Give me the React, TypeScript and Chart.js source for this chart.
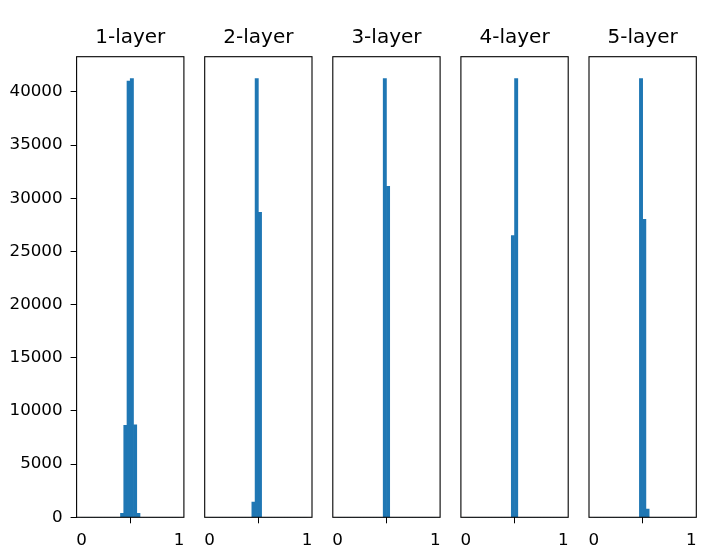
import React, { useEffect, useRef } from 'react';
import { Chart, registerables } from 'chart.js';

Chart.register(...registerables);

// ---- data ----
const BIN_COUNT = 30;
const BIN_CENTERS = Array.from({ length: BIN_COUNT }, (_, i) => (i + 0.5) / BIN_COUNT);
const TITLES = ['1-layer', '2-layer', '3-layer', '4-layer', '5-layer'];
const X_TICKS = [0, 1];
const Y_TICKS = [0, 5000, 10000, 15000, 20000, 25000, 30000, 35000, 40000];

//                0  1  2  3  4  5  6  7  8  9 10 11  12    13     14     15    16   17 18 19 20 21 22 23 24 25 26 27 28 29
const LAYER_1 = [0, 0, 0, 0, 0, 0, 0, 0, 0, 0, 0, 0, 370, 8640, 41000, 41240, 8705, 380, 0, 0, 0, 0, 0, 0, 0, 0, 0, 0, 0, 0];
const LAYER_2 = [0, 0, 0, 0, 0, 0, 0, 0, 0, 0, 0, 0, 0, 2000, 57800, 40200, 0, 0, 0, 0, 0, 0, 0, 0, 0, 0, 0, 0, 0, 0];
const LAYER_3 = [0, 0, 0, 0, 0, 0, 0, 0, 0, 0, 0, 0, 0, 0, 57000, 43000, 0, 0, 0, 0, 0, 0, 0, 0, 0, 0, 0, 0, 0, 0];
const LAYER_4 = [0, 0, 0, 0, 0, 0, 0, 0, 0, 0, 0, 0, 0, 0, 39100, 60900, 0, 0, 0, 0, 0, 0, 0, 0, 0, 0, 0, 0, 0, 0];
const LAYER_5 = [0, 0, 0, 0, 0, 0, 0, 0, 0, 0, 0, 0, 0, 0, 58900, 40000, 1100, 0, 0, 0, 0, 0, 0, 0, 0, 0, 0, 0, 0, 0];
const LAYERS = [LAYER_1, LAYER_2, LAYER_3, LAYER_4, LAYER_5];

// ---- layout ----
const FIG_W = 712;
const FIG_H = 559;
const AX_LEFT0 = 76.6;
const AX_STEP = 128.1;
const AX_W = 107.3;
const AX_TOP = 56.7;
const AX_BOTTOM = 517.3;
const BLUE = '#1f77b4';
const FONT = 'DejaVu Sans';
const TICK_FONT = 16.7;
const TITLE_FONT = 20;
const TITLE_LINE = 24;
const TITLE_PAD_TOP = 25.6;

const framePlugin = {
  id: 'frame',
  afterDraw(chart: any) {
    const { ctx, chartArea: a } = chart;
    ctx.save();
    ctx.strokeStyle = '#000';
    ctx.lineWidth = 1.1;
    ctx.strokeRect(a.left, a.top, a.right - a.left, a.bottom - a.top);
    ctx.restore();
  },
};

function Panel({ index }: { index: number }) {
  const ref = useRef<HTMLCanvasElement>(null);
  const showY = index === 0;
  const L = AX_LEFT0 + AX_STEP * index;
  const canvasLeft = showY ? 0 : Math.floor(L) - 14;
  const padLeft = L - canvasLeft;
  const canvasWidth = Math.ceil(padLeft + AX_W + 14);
  const padRight = canvasWidth - padLeft - AX_W;

  useEffect(() => {
    const counts = LAYERS[index];
    const maxV = Math.max(...counts);
    const chart = new Chart(ref.current as HTMLCanvasElement, {
      type: 'bar',
      data: {
        datasets: [
          {
            data: BIN_CENTERS.map((x, i) => ({ x, y: counts[i] })),
            backgroundColor: BLUE,
            borderWidth: 0,
            barPercentage: 1,
            categoryPercentage: 1,
          },
        ],
      },
      options: {
        animation: false,
        responsive: false,
        devicePixelRatio: 1,
        layout: { padding: { left: showY ? 0 : padLeft, right: padRight, top: 0, bottom: 0 } },
        plugins: {
          legend: { display: false },
          tooltip: { enabled: false },
          title: {
            display: true,
            text: TITLES[index],
            fullSize: false,
            color: '#000',
            font: { family: FONT, size: TITLE_FONT, weight: 'normal', lineHeight: TITLE_LINE / TITLE_FONT },
            padding: { top: TITLE_PAD_TOP, bottom: AX_TOP - TITLE_PAD_TOP - TITLE_LINE },
          },
        },
        scales: {
          x: {
            type: 'linear',
            min: -0.05,
            max: 1.05,
            offset: false,
            border: { display: false },
            grid: { display: true, drawOnChartArea: false, drawTicks: true, tickLength: 6, color: '#000', lineWidth: 1 },
            ticks: {
              color: '#000',
              font: { family: FONT, size: TICK_FONT },
              padding: 7,
              maxRotation: 0,
              callback: (v: any) => String(v),
            },
            afterBuildTicks: (s: any) => {
              s.ticks = X_TICKS.map((value) => ({ value }));
            },
            afterFit: (s: any) => {
              s.height = FIG_H - AX_BOTTOM;
            },
          },
          y: {
            type: 'linear',
            display: showY,
            min: 0,
            max: maxV * 1.05,
            border: { display: false },
            grid: { display: true, drawOnChartArea: false, drawTicks: true, tickLength: 6, color: '#000', lineWidth: 1 },
            ticks: {
              color: '#000',
              font: { family: FONT, size: TICK_FONT },
              padding: 8,
              callback: (v: any) => String(v),
            },
            afterBuildTicks: (s: any) => {
              s.ticks = Y_TICKS.map((value) => ({ value }));
            },
            afterFit: (s: any) => {
              if (showY) s.width = L;
            },
          },
        },
      },
      plugins: [framePlugin],
    } as any);
    return () => chart.destroy();
  }, [index]);

  return (
    <canvas
      ref={ref}
      width={canvasWidth}
      height={FIG_H}
      style={{ position: 'absolute', left: canvasLeft, top: 0, width: canvasWidth, height: FIG_H }}
    />
  );
}

export default function App() {
  return (
    <div style={{ position: 'fixed', left: 0, top: 0, width: FIG_W, height: FIG_H, background: '#fff' }}>
      {TITLES.map((_, i) => (
        <Panel key={i} index={i} />
      ))}
    </div>
  );
}
